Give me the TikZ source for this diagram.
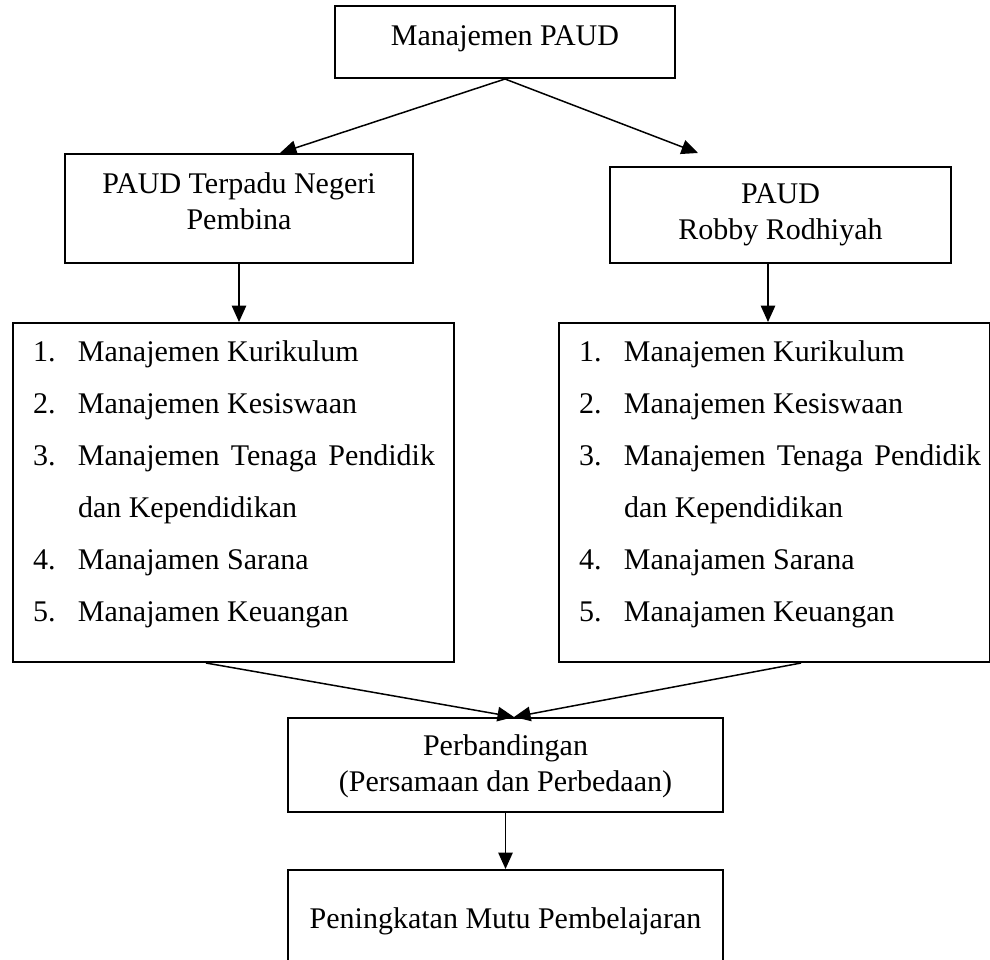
\documentclass[tikz,border=0pt]{standalone}
\usepackage{fontspec}
\setmainfont{Liberation Serif}
\usetikzlibrary{arrows.meta}
\newdimen\pxu \pxu=0.4pt
\newcommand\boxtxt[4]{\parbox[c][#2\pxu][t]{#1\pxu}{\centering\vspace*{#3\pxu}#4}}
\newcommand\butir[2]{\hspace*{20\pxu}\strut\makebox[45\pxu][l]{#1}#2}
\newcommand\daftar[2]{\parbox[c][339\pxu][t]{#1\pxu}{\fontsize{12}{20.8}\selectfont\raggedright\vspace*{#2\pxu}%
\butir{1.}{Manajemen Kurikulum}\\
\butir{2.}{Manajemen Kesiswaan}\\
\butir{3.}{\makebox[357\pxu][s]{Manajemen Tenaga Pendidik}}\\
\hspace*{65\pxu}\strut dan Kependidikan\\
\butir{4.}{Manajamen Sarana}\\
\butir{5.}{Manajamen Keuangan}}}

\begin{document}
\begin{tikzpicture}[x=0.4pt, y=-0.4pt,
	kotak/.style={draw, line width=0.8pt, inner sep=0pt, anchor=north west, font=\fontsize{12}{14.4}\selectfont},
	panah/.style={line width=0.6pt, -{Triangle[length=6.6pt,width=5.8pt]}}]
		\useasboundingbox (0,0) rectangle (990,959);
		
		%%%%% KOTAK %%%%%
		\node[kotak] (manajemen) at (334,5) {\boxtxt{340}{72}{14.8}{\strut Manajemen PAUD}};
		
		\node[kotak] (terpadu) at (64,153) {\boxtxt{348}{109}{13.8}{\strut PAUD Terpadu Negeri\\\strut Pembina}};
		\node[kotak] (robby) at (609,166) {\boxtxt{341}{96}{10.8}{\strut PAUD\\\strut Robby Rodhiyah}};
		
		\node[kotak] (kiri) at (12,322) {\daftar{441}{1.6}};
		\node[kotak] (kanan) at (558,322) {\daftar{431}{1.6}};
		
		\node[kotak] (banding) at (287,717) {\boxtxt{435}{94}{11.8}{\strut Perbandingan\\\strut (Persamaan dan Perbedaan)}};
		\node[kotak] (mutu) at (287,869) {\boxtxt{435}{116}{32.8}{\strut Peningkatan Mutu Pembelajaran}};
		
		%%%%% PANAH %%%%%
		\coordinate (temu) at ([xshift=3.4pt]banding.north);
		
		\draw[panah] (manajemen.south) -- ([xshift=86.4pt]terpadu.north west);
		\draw[panah] (manajemen.south) -- ([xshift=35.6pt, yshift=5.2pt]robby.north west);
		
		\draw[panah] (terpadu.south) -- (terpadu.south |- kiri.north);
		\draw[panah] ([xshift=-5pt]robby.south) -- ([xshift=-5pt]robby.south |- kanan.north);
		
		\draw[panah] ([xshift=-11pt]kiri.south) -- (temu);
		\draw[panah] ([xshift=10.6pt]kanan.south) -- (temu);
		
		\draw[panah] (banding.south) -- (mutu.north);
	\end{tikzpicture}
\end{document}
